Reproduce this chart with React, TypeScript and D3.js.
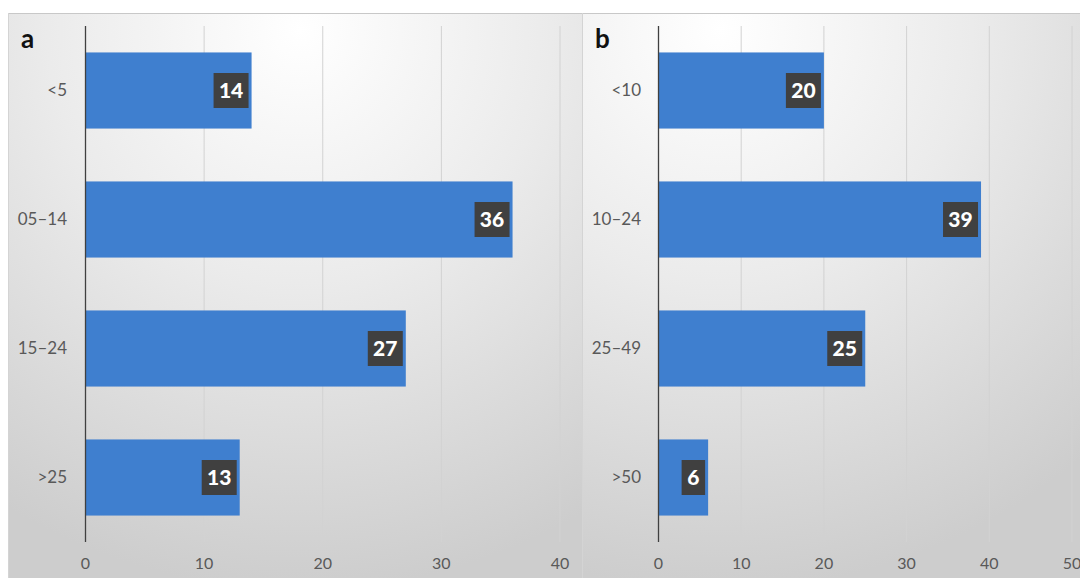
import React from "react";
import * as d3 from "d3";

const catsA = ["<5", "05–14", "15–24", ">25"];
const valsA = [14, 36, 27, 13];
const ticksA = [0, 10, 20, 30, 40];

const catsB = ["<10", "10–24", "25–49", ">50"];
const valsB = [20, 39, 25, 6];
const ticksB = [0, 10, 20, 30, 40, 50];

const W = 1080;
const H = 578;
const FONT = "Lato, 'Open Sans', sans-serif";
const BAR = "#3f7fcf";

type PanelProps = {
  id: string;
  letter: string;
  cats: string[];
  vals: number[];
  ticks: number[];
  x0: number;
  x1: number;
  px0: number;
  px1: number;
  labelX: number;
  gradCx: number;
};

function Panel(p: PanelProps) {
  const top = 26;
  const bottom = 542;
  const x = d3.scaleLinear().domain([0, p.ticks[p.ticks.length - 1]]).range([p.px0, p.px1]);
  const y = d3.scaleBand().domain(p.cats).range([top, bottom]).paddingInner(0.41).paddingOuter(0.205);
  return (
    <g>
      <defs>
        <radialGradient id={p.id} gradientUnits="userSpaceOnUse" cx={p.gradCx} cy={30} r={560} fx={p.gradCx} fy={30}>
          <stop offset="0" stopColor="#ffffff" />
          <stop offset="0.45" stopColor="#ebebeb" />
          <stop offset="1" stopColor="#cdcdcd" />
        </radialGradient>
      </defs>
      <rect x={p.x0} y={13} width={p.x1 - p.x0} height={H - 13} fill={`url(#${p.id})`} />
      <line x1={p.x0} x2={p.x1} y1={13.5} y2={13.5} stroke="#c8c8c8" />
      <line x1={p.x0 + 0.5} x2={p.x0 + 0.5} y1={13} y2={H} stroke="#d4d4d4" />
      {p.ticks.slice(1).map((t) => (
        <line key={t} x1={x(t)} x2={x(t)} y1={top} y2={bottom} stroke="#d2d2d2" strokeWidth={1} />
      ))}
      {p.cats.map((c, i) => (
        <rect key={c} x={x(0)} y={y(c)!} width={x(p.vals[i]) - x(0)} height={y.bandwidth()} fill={BAR} />
      ))}
      <line x1={x(0)} x2={x(0)} y1={top} y2={bottom} stroke="#404040" strokeWidth={1.3} />
      {p.ticks.map((t) => (
        <text key={t} x={x(t)} y={569} textAnchor="middle" fontFamily={FONT} fontSize={16} fill="#595959">
          {t}
        </text>
      ))}
      {p.cats.map((c) => (
        <text key={c} x={p.labelX} y={y(c)! + y.bandwidth() / 2} dy="0.35em" textAnchor="end" fontFamily={FONT} fontSize={17} fill="#595959">
          {c}
        </text>
      ))}
      {p.cats.map((c, i) => {
        const s = String(p.vals[i]);
        const bw = s.length * 11.5 + 12;
        const bh = 35;
        const cx = y(c)! + y.bandwidth() / 2;
        const right = x(p.vals[i]) - 3;
        return (
          <g key={c + "l"}>
            <rect x={right - bw} y={cx - bh / 2} width={bw} height={bh} fill="#404040" />
            <text x={right - bw / 2} y={cx} dy="0.36em" textAnchor="middle" fontFamily={FONT} fontWeight="900" fontSize={21} fill="#ffffff">
              {s}
            </text>
          </g>
        );
      })}
      <text x={p.x0 + 13} y={48} fontFamily={FONT} fontSize={26} fontWeight="bold" fill="#111">
        {p.letter}
      </text>
    </g>
  );
}

export default function App() {
  return (
    <svg width={W} height={H} style={{ position: "absolute", left: 0, top: 0 }}>
      <rect x={0} y={0} width={W} height={H} fill="#ffffff" />
      <Panel id="ga" letter="a" cats={catsA} vals={valsA} ticks={ticksA} x0={8} x1={582} px0={85.5} px1={560} labelX={67} gradCx={300} />
      <Panel id="gb" letter="b" cats={catsB} vals={valsB} ticks={ticksB} x0={582} x1={W} px0={658.5} px1={1072} labelX={641} gradCx={720} />
    </svg>
  );
}
